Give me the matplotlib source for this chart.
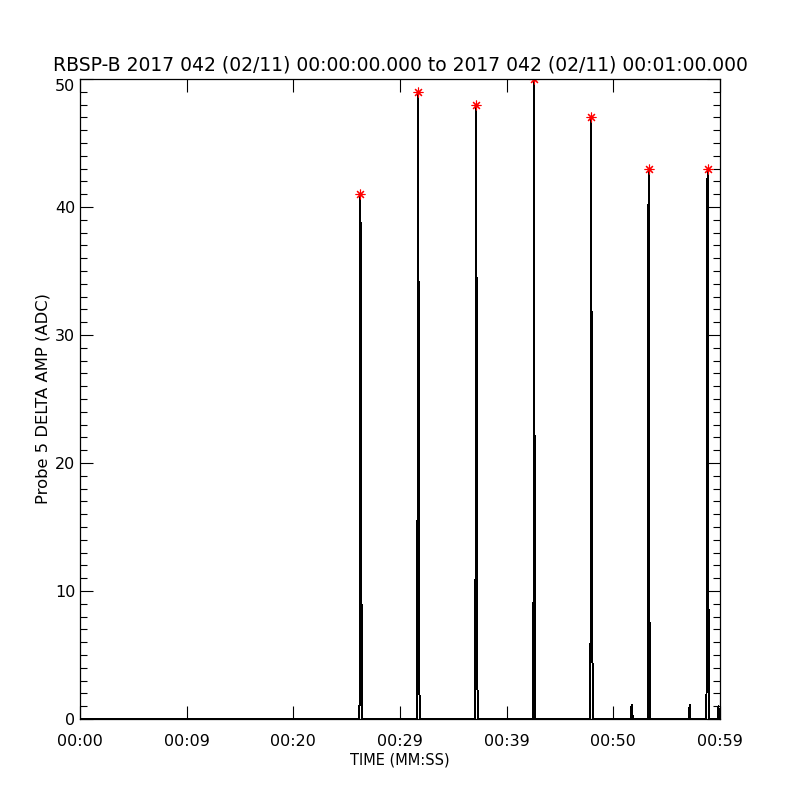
import numpy as np
import matplotlib
matplotlib.use('Agg')
import matplotlib.pyplot as plt

# sampling interval of the probe data (seconds)
sample_dt = 0.05

# start time (s) and sample values (ADC) of each burst
pulse_start = [26.16, 31.59, 37.03, 42.47, 47.81, 51.66, 53.25, 57.10, 58.73, 59.80]
pulse_values = [
    [0, 1.2, 41, 38, 23.5, 0],
    [0, 15, 49, 32.5, 8, 0],
    [0, 11.3, 48, 32, 8, 0],
    [0, 10, 50, 15, 0],
    [0, 6, 47, 29.5, 15.5, 0.5, 0],
    [0, 1.1, 1.1, 0],
    [0, 43, 25.5, 3.5, 0],
    [0, 1.1, 0],
    [0, 21.5, 43, 40.5, 2.7, 0],
    [0, 1.0, 0],
]
peak_min = 5  # bursts above this get a red marker

title = 'RBSP-B 2017 042 (02/11) 00:00:00.000 to 2017 042 (02/11) 00:01:00.000'
xtick_pos = [0, 10, 20, 30, 40, 50, 60]
xtick_labels = ['00:00', '00:09', '00:20', '00:29', '00:39', '00:50', '00:59']
ytick_pos = [0, 10, 20, 30, 40, 50]

plt.rcParams['font.family'] = ['DejaVu Sans']

t = [0.0]
v = [0.0]
peak_t = []
peak_v = []
for start, vals in zip(pulse_start, pulse_values):
    for k, val in enumerate(vals):
        t.append(start + k * sample_dt)
        v.append(val)
    if max(vals) > peak_min:
        k = int(np.argmax(vals))
        peak_t.append(start + k * sample_dt)
        peak_v.append(vals[k])
t.append(60.0)
v.append(0.0)

fig = plt.figure(figsize=(8, 8), dpi=100)
ax = fig.add_axes([0.1, 0.10125, 0.8, 0.8])

ax.plot(t, v, color='black', linewidth=0.72, antialiased=False)
ax.plot(peak_t, peak_v, linestyle='none', marker=(8, 2, 0), markersize=7,
        markeredgewidth=0.8, color='red', antialiased=False)

ax.set_xlim(0, 60)
ax.set_ylim(0, 50)
ax.set_xticks(xtick_pos)
ax.set_xticklabels(xtick_labels)
ax.set_yticks(ytick_pos)
ax.set_yticks(np.arange(0, 51, 1), minor=True)

ax.tick_params(axis='both', which='major', direction='in', length=9.4, width=0.8,
               labelsize=11.5, top=True, right=True)
ax.tick_params(axis='x', which='major', pad=11)
ax.tick_params(axis='y', which='major', pad=3.5)
ax.tick_params(axis='y', which='minor', direction='in', length=4.7, width=0.8,
               left=True, right=True)
for s in ax.spines.values():
    s.set_linewidth(0.9)

# top y label sits just below the axis top, like the IDL plot
ax.yaxis.get_major_ticks()[-1].label1.set_verticalalignment('top')

ax.set_title(title, fontsize=13.5, pad=6)
ax.set_xlabel('TIME (MM:SS)', fontsize=10.5, labelpad=2)
ax.set_ylabel('Probe 5 DELTA AMP (ADC)', fontsize=11.8, labelpad=3)

fig.savefig('out.png', dpi=100)
